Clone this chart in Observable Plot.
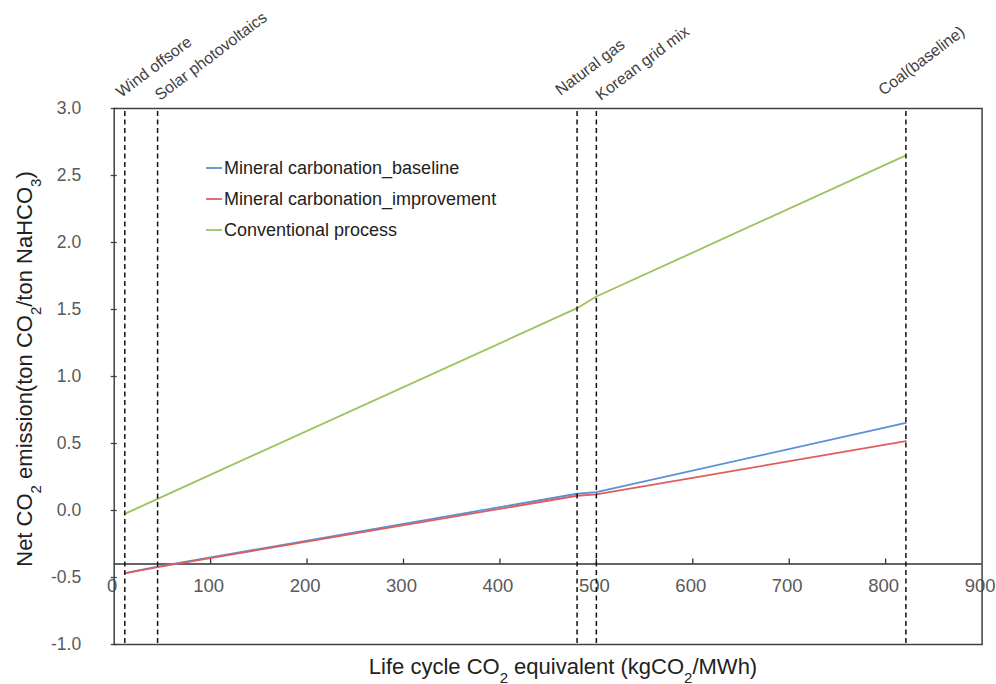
<!DOCTYPE html>
<html>
<head>
<meta charset="utf-8">
<script src="https://cdn.jsdelivr.net/npm/d3@7"></script>
<script src="https://cdn.jsdelivr.net/npm/@observablehq/plot@0.6"></script>
<style>
  body { margin: 0; background: #fff; }
  #chart { position: relative; width: 996px; height: 684px; }
</style>
</head>
<body>
<div id="chart"></div>
<script>
// ---- data ----
const sources = ["Wind offsore", "Solar photovoltaics", "Natural gas", "Korean grid mix", "Coal(baseline)"];
const intensity = [11, 45, 480, 500, 821];           // kgCO2/MWh
const baseline = [-0.468, -0.418, 0.125, 0.137, 0.654];
const improvement = [-0.470, -0.422, 0.110, 0.120, 0.517];
const conventional = [-0.025, 0.087, 1.510, 1.597, 2.650];
const seriesNames = ["Mineral carbonation_baseline", "Mineral carbonation_improvement", "Conventional process"];
const seriesColors = ["#5b8fd6", "#e05c5c", "#9bc35b"];
const xTicks = [0, 100, 200, 300, 400, 500, 600, 700, 800, 900];
const yTicks = [-1.0, -0.5, 0.0, 0.5, 1.0, 1.5, 2.0, 2.5, 3.0];
const xAxisAt = -0.4;

const seriesValues = [baseline, improvement, conventional];
const rows = [];
seriesNames.forEach((name, si) => {
  intensity.forEach((x, i) => rows.push({series: name, x, y: seriesValues[si][i]}));
});
const markers = sources.map((s, i) => ({label: s, x: intensity[i]}));

const font = "Liberation Sans, Arial, sans-serif";

// label placement tweaks (layout only)
const labelShift = {"Wind offsore": [-3, -10], "Solar photovoltaics": [3, -7], "Natural gas": [-16, -12],
  "Korean grid mix": [5, -7], "Coal(baseline)": [-22, -12]};

const chart = Plot.plot({
  width: 996,
  height: 684,
  marginLeft: 113.7,
  marginRight: 14.4,
  marginTop: 108,
  marginBottom: 40,
  style: {fontFamily: font, background: "#fff", overflow: "visible"},
  x: {domain: [0, 900], axis: null},
  y: {domain: [-1, 3], axis: null},
  color: {domain: seriesNames, range: seriesColors},
  marks: [
    Plot.axisY(yTicks, {anchor: "left", tickSize: 0, tickPadding: 33, fontSize: 17.5, fill: "#595959",
      tickFormat: d => d.toFixed(1), label: null}),
    // y ticks crossing the left frame
    Plot.ruleY(yTicks, {y: d => d, x1: 0, x2: 0, insetLeft: -3, insetRight: -3, stroke: "#404040", strokeWidth: 1.3}),
    // horizontal x-axis line at -0.4
    Plot.ruleY([xAxisAt], {stroke: "#303030", strokeWidth: 1.5}),
    // x ticks (upward)
    Plot.ruleX(xTicks.filter(d => d > 0 && d < 900), {x: d => d, y1: xAxisAt, y2: xAxisAt, insetTop: -5, stroke: "#303030", strokeWidth: 1.3}),
    // x tick labels
    Plot.text(xTicks, {x: d => d, y: xAxisAt, text: d => String(d), dy: 22, dx: -2, fontSize: 18.5, fill: "#595959", lineAnchor: "middle"}),
    // series lines
    Plot.line(rows, {x: "x", y: "y", z: "series", stroke: "series", strokeWidth: 1.8}),
    // dashed vertical markers
    Plot.ruleX(markers, {x: "x", stroke: "#111", strokeWidth: 1.5, strokeDasharray: "5,3.5", insetTop: 3}),
    Plot.frame({stroke: "#404040", strokeWidth: 1.5})
  ]
});

document.getElementById("chart").appendChild(chart);

const svg = d3.select(chart);
const xs = chart.scale("x");

// rotated marker labels, placed by the x scale
const ml = svg.append("g").attr("font-family", font).attr("font-size", 16).attr("fill", "#404040");
markers.forEach(m => {
  const [dx, dy] = labelShift[m.label];
  const px = xs.apply(m.x) + dx, py = 108 + dy;
  ml.append("text").attr("text-anchor", "start")
    .attr("transform", `translate(${px},${py}) rotate(-37)`).text(m.label);
});

// axis titles with subscripts
function addTitle(parts, attrs) {
  const t = svg.append("text")
    .attr("font-family", font)
    .attr("font-size", 22)
    .attr("fill", "#222")
    .attr("text-anchor", "middle");
  Object.entries(attrs).forEach(([k, v]) => t.attr(k, v));
  parts.forEach(([txt, sub]) => {
    const ts = t.append("tspan").text(txt);
    if (sub) ts.attr("baseline-shift", "sub").attr("font-size", 15);
  });
}
addTitle([["Life cycle CO"], ["2", true], [" equivalent (kgCO"], ["2", true], ["/MWh)"]],
  {x: 563, y: 674});
addTitle([["Net CO"], ["2", true], [" emission(ton CO"], ["2", true], ["/ton NaHCO"], ["3", true], [")"]],
  {x: 0, y: 0, transform: "translate(32,369) rotate(-90)"});

// legend inside the plot
const lg = svg.append("g").attr("font-family", font).attr("font-size", 18).attr("fill", "#222")
  .attr("text-anchor", "start");
seriesNames.forEach((name, i) => {
  const yy = 168 + i * 31;
  lg.append("line").attr("x1", 206).attr("x2", 222).attr("y1", yy).attr("y2", yy)
    .attr("stroke", seriesColors[i]).attr("stroke-width", 1.8);
  lg.append("text").attr("x", 224).attr("y", yy).attr("dy", "0.35em").attr("text-anchor", "start").text(name);
});
</script>
</body>
</html>
